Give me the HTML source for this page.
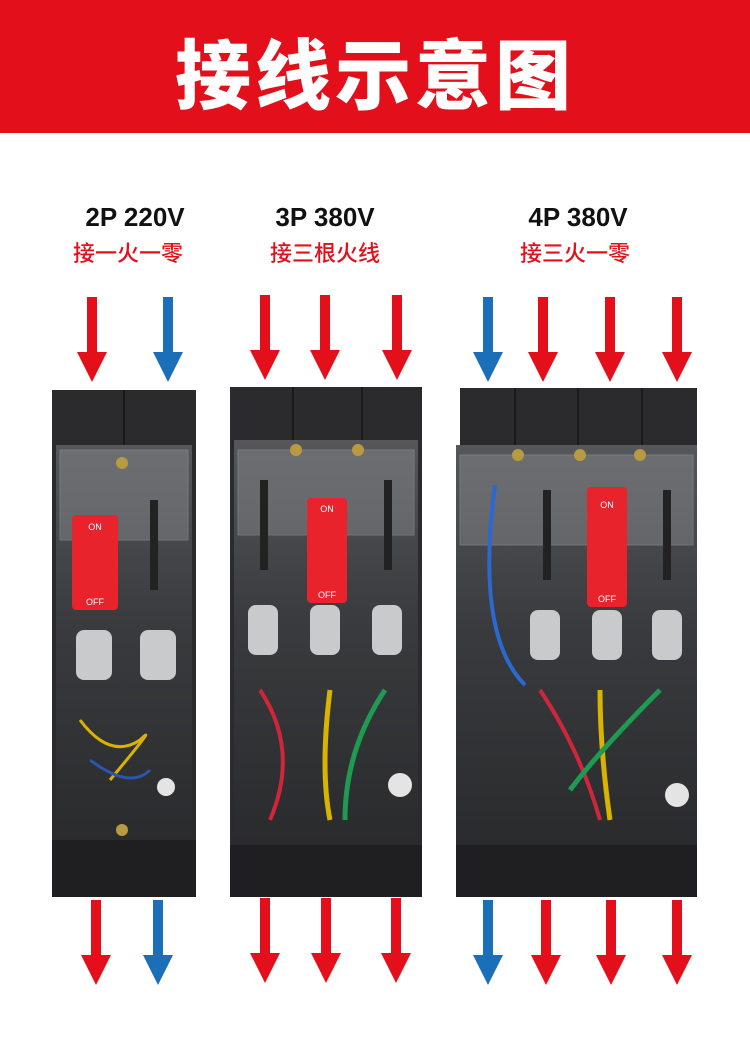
<!DOCTYPE html>
<html><head><meta charset="utf-8">
<style>
html,body{margin:0;padding:0;background:#fff;}
body{width:750px;height:1050px;overflow:hidden;position:relative;font-family:"Liberation Sans","Noto Sans CJK SC",sans-serif;}
.hdr{position:absolute;left:0;top:0;width:750px;height:133px;background:#e3101b;color:#fff;font-size:76px;font-weight:900;text-align:center;line-height:140px;letter-spacing:4px;font-family:"Noto Sans CJK SC",sans-serif;}
.t{position:absolute;width:200px;text-align:center;font-weight:bold;}
.t1{font-size:26px;color:#111;}
.t2{font-size:22px;color:#e3101b;font-family:"Noto Sans CJK SC",sans-serif;font-weight:500;}
svg{position:absolute;left:0;top:0;}
</style></head><body>
<div class="hdr">接线示意图</div>
<div class="t t1" style="left:35px;top:202px">2P 220V</div>
<div class="t t2" style="left:28px;top:236px">接一火一零</div>
<div class="t t1" style="left:225px;top:202px">3P 380V</div>
<div class="t t2" style="left:225px;top:236px">接三根火线</div>
<div class="t t1" style="left:478px;top:202px">4P 380V</div>
<div class="t t2" style="left:475px;top:236px">接三火一零</div>
<svg width="750" height="1050" viewBox="0 0 750 1050">
<defs>
<g id="ar"><rect x="-5" y="0" width="10" height="58" /><polygon points="-15,55 15,55 0,85"/></g>
<linearGradient id="cv" x1="0" x2="0" y1="0" y2="1"><stop offset="0" stop-color="#55575b"/><stop offset="0.45" stop-color="#3a3b3e"/><stop offset="1" stop-color="#2a2b2d"/></linearGradient>
</defs>
<g fill="#e3101b"><use href="#ar" x="92" y="297"/><use href="#ar" x="265" y="295"/><use href="#ar" x="325" y="295"/><use href="#ar" x="397" y="295"/><use href="#ar" x="543" y="297"/><use href="#ar" x="610" y="297"/><use href="#ar" x="677" y="297"/>
<use href="#ar" x="96" y="900"/><use href="#ar" x="265" y="898"/><use href="#ar" x="326" y="898"/><use href="#ar" x="396" y="898"/><use href="#ar" x="546" y="900"/><use href="#ar" x="611" y="900"/><use href="#ar" x="677" y="900"/></g>
<g fill="#1a6fb8"><use href="#ar" x="168" y="297"/><use href="#ar" x="488" y="297"/><use href="#ar" x="158" y="900"/><use href="#ar" x="488" y="900"/></g>

<!-- 2P -->
<rect x="52" y="390" width="144" height="507" fill="#2b2b2d"/>
<rect x="56" y="445" width="136" height="395" fill="url(#cv)"/>
<rect x="60" y="450" width="128" height="90" fill="#8a8c90" opacity=".45" stroke="#aaa" stroke-width="1"/>
<line x1="124" y1="390" x2="124" y2="445" stroke="#1a1a1a" stroke-width="2"/>
<line x1="122" y1="840" x2="122" y2="897" stroke="#111" stroke-width="2"/>
<rect x="72" y="515" width="46" height="95" rx="4" fill="#e8232c"/>
<text x="95" y="530" font-size="9" fill="#fff" text-anchor="middle">ON</text>
<text x="95" y="605" font-size="9" fill="#fff" text-anchor="middle">OFF</text>
<rect x="140" y="630" width="36" height="50" rx="8" fill="#c9cacc"/>
<rect x="76" y="630" width="36" height="50" rx="8" fill="#c9cacc"/>
<rect x="150" y="500" width="8" height="90" fill="#222"/>
<rect x="52" y="840" width="144" height="57" fill="#1f1f21"/>
<circle cx="122" cy="463" r="6" fill="#b89a40"/><circle cx="122" cy="830" r="6" fill="#b89a40"/>
<circle cx="166" cy="787" r="9" fill="#e4e4e4"/>
<path d="M80 720 q30 40 60 20 q20 -20 -30 40" stroke="#d8b400" stroke-width="3" fill="none"/>
<path d="M90 760 q40 30 60 10" stroke="#2a55b0" stroke-width="3" fill="none"/>

<!-- 3P -->
<rect x="230" y="387" width="192" height="510" fill="#2b2b2d"/>
<rect x="234" y="440" width="184" height="400" fill="url(#cv)"/>
<rect x="238" y="450" width="176" height="85" fill="#8a8c90" opacity=".45" stroke="#aaa" stroke-width="1"/>
<line x1="293" y1="387" x2="293" y2="440" stroke="#1a1a1a" stroke-width="2"/><line x1="362" y1="387" x2="362" y2="440" stroke="#1a1a1a" stroke-width="2"/>
<line x1="293" y1="845" x2="293" y2="897" stroke="#111" stroke-width="2"/><line x1="362" y1="845" x2="362" y2="897" stroke="#111" stroke-width="2"/>
<rect x="307" y="498" width="40" height="105" rx="4" fill="#e8232c"/>
<text x="327" y="512" font-size="9" fill="#fff" text-anchor="middle">ON</text>
<text x="327" y="598" font-size="9" fill="#fff" text-anchor="middle">OFF</text>
<rect x="260" y="480" width="8" height="90" fill="#222"/><rect x="384" y="480" width="8" height="90" fill="#222"/>
<rect x="248" y="605" width="30" height="50" rx="8" fill="#c9cacc"/>
<rect x="310" y="605" width="30" height="50" rx="8" fill="#c9cacc"/>
<rect x="372" y="605" width="30" height="50" rx="8" fill="#c9cacc"/>
<circle cx="296" cy="450" r="6" fill="#b89a40"/><circle cx="358" cy="450" r="6" fill="#b89a40"/>
<rect x="230" y="845" width="192" height="52" fill="#1f1f21"/>
<circle cx="400" cy="785" r="12" fill="#e4e4e4"/>
<path d="M260 690 q40 60 10 130" stroke="#d0263a" stroke-width="4" fill="none"/>
<path d="M330 690 q-10 80 0 130" stroke="#d8b400" stroke-width="5" fill="none"/>
<path d="M385 690 q-40 60 -40 130" stroke="#1f9a52" stroke-width="5" fill="none"/>

<!-- 4P -->
<rect x="460" y="388" width="237" height="509" fill="#2b2b2d"/>
<rect x="456" y="445" width="241" height="400" fill="url(#cv)"/>
<rect x="460" y="455" width="233" height="90" fill="#8a8c90" opacity=".45" stroke="#aaa" stroke-width="1"/>
<line x1="515" y1="388" x2="515" y2="445" stroke="#1a1a1a" stroke-width="2"/><line x1="578" y1="388" x2="578" y2="445" stroke="#1a1a1a" stroke-width="2"/><line x1="642" y1="388" x2="642" y2="445" stroke="#1a1a1a" stroke-width="2"/>
<line x1="515" y1="845" x2="515" y2="897" stroke="#111" stroke-width="2"/><line x1="578" y1="845" x2="578" y2="897" stroke="#111" stroke-width="2"/><line x1="642" y1="845" x2="642" y2="897" stroke="#111" stroke-width="2"/>
<rect x="587" y="487" width="40" height="120" rx="4" fill="#e8232c"/>
<text x="607" y="508" font-size="9" fill="#fff" text-anchor="middle">ON</text>
<text x="607" y="602" font-size="9" fill="#fff" text-anchor="middle">OFF</text>
<rect x="543" y="490" width="8" height="90" fill="#222"/><rect x="663" y="490" width="8" height="90" fill="#222"/>
<rect x="530" y="610" width="30" height="50" rx="8" fill="#c9cacc"/>
<rect x="592" y="610" width="30" height="50" rx="8" fill="#c9cacc"/>
<rect x="652" y="610" width="30" height="50" rx="8" fill="#c9cacc"/>
<circle cx="518" cy="455" r="6" fill="#b89a40"/><circle cx="580" cy="455" r="6" fill="#b89a40"/><circle cx="640" cy="455" r="6" fill="#b89a40"/>
<rect x="456" y="845" width="241" height="52" fill="#1f1f21"/>
<circle cx="677" cy="795" r="12" fill="#e4e4e4"/>
<path d="M495 485 q-20 150 30 200" stroke="#2a6ad0" stroke-width="4" fill="none"/>
<path d="M540 690 q40 60 60 130" stroke="#d0263a" stroke-width="4" fill="none"/>
<path d="M600 690 q0 60 10 130" stroke="#d8b400" stroke-width="5" fill="none"/>
<path d="M660 690 q-60 60 -90 100" stroke="#1f9a52" stroke-width="5" fill="none"/>
</svg>
</body></html>
